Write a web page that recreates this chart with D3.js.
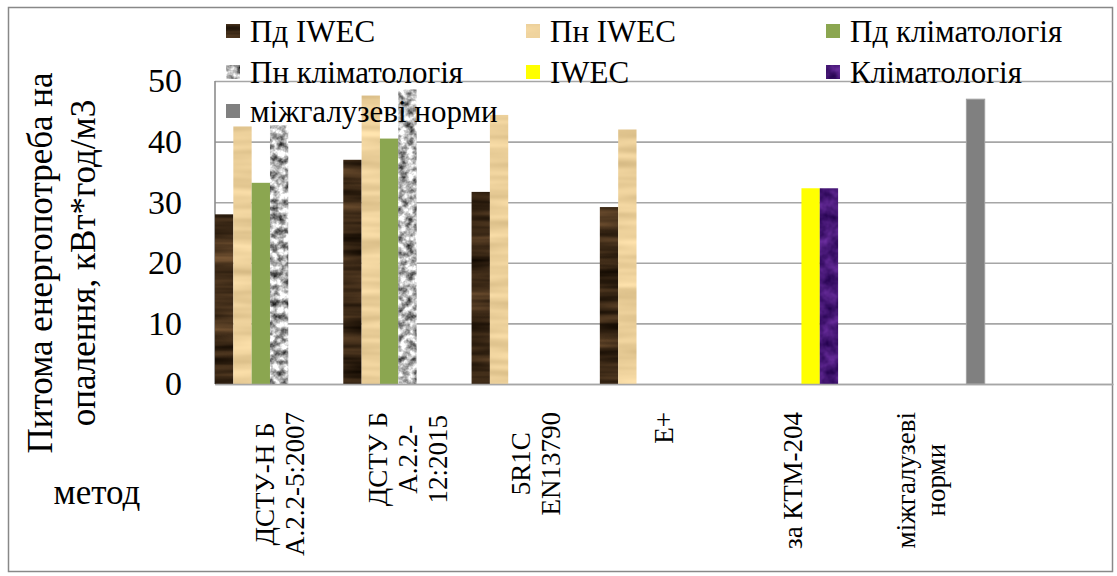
<!DOCTYPE html>
<html>
<head>
<meta charset="utf-8">
<script src="https://cdn.jsdelivr.net/npm/d3@7"></script>
<style>
  html, body { margin: 0; padding: 0; background: #fff; }
  svg { display: block; }
</style>
</head>
<body>
<svg id="chart" width="1117" height="576"></svg>
<script>
// Categories (calculation method), each label split into lines
const categories = ["c1", "c2", "c3", "c4", "c5", "c6", "c7"];
const categoryLabels = [
  ["ДСТУ-Н Б", "А.2.2-5:2007"],
  ["ДСТУ Б", "А.2.2-", "12:2015"],
  ["5R1C", "EN13790"],
  ["E+"],
  ["за КТМ-204"],
  ["міжгалузеві", "норми"],
  [""]
];

// Series names (legend order)
const seriesNames = [
  "Пд IWEC", "Пн IWEC", "Пд кліматологія",
  "Пн кліматологія", "IWEC", "Кліматологія",
  "міжгалузеві норми"
];

// Specific heating energy demand, kWh/m3
const pdIWEC   = [28.0, 37.0, 31.7, 29.2, null, null, null];
const pnIWEC   = [42.5, 47.6, 44.4, 42.0, null, null, null];
const pdClim   = [33.2, 40.5, null, null, null, null, null];
const pnClim   = [42.7, 48.6, null, null, null, null, null];
const iwecOnly = [null, null, null, null, 32.3, null, null];
const climOnly = [null, null, null, null, 32.3, null, null];
const norms    = [null, null, null, null, null, 47.0, null];

const yTicks = [0, 10, 20, 30, 40, 50];

const FONT = "Liberation Serif, DejaVu Serif, Noto Serif, FreeSerif, Tinos, Times New Roman, serif";

const seriesValues = [pdIWEC, pnIWEC, pdClim, pnClim, iwecOnly, climOnly, norms];
const seriesFilters = ["wood", "papyrus", null, "granite", null, "violet", null];
const seriesBase = ["#3d2a18", "#ebd19a", "#8ba650", "#b8b8b8", "#ffff00", "#4a1a75", "#808080"];

const svg = d3.select("#chart").attr("font-family", FONT);
const defs = svg.append("defs");

// Textured fills built from turbulence noise, clipped to the shape
function noiseFilter(id, freq, octaves, seed, matrix) {
  const f = defs.append("filter").attr("id", id)
    .attr("x", 0).attr("y", 0).attr("width", 1).attr("height", 1)
    .attr("color-interpolation-filters", "sRGB");
  f.append("feTurbulence").attr("type", "fractalNoise")
    .attr("baseFrequency", freq).attr("numOctaves", octaves)
    .attr("seed", seed).attr("result", "n");
  f.append("feColorMatrix").attr("in", "n").attr("type", "matrix")
    .attr("values", matrix).attr("result", "c");
  f.append("feComposite").attr("in", "c").attr("in2", "SourceGraphic").attr("operator", "in");
}
noiseFilter("wood", "0.006 0.09", 3, 4,
  "0.6 0 0 0 -0.06  0.45 0 0 0 -0.06  0.3 0 0 0 -0.06  0 0 0 0 1");
noiseFilter("papyrus", "0.01 0.1", 2, 7,
  "0.22 0 0 0 0.81  0.22 0 0 0 0.70  0.22 0 0 0 0.49  0 0 0 0 1");
noiseFilter("granite", "0.14", 3, 11,
  "1.5 0 0 0 -0.05  1.5 0 0 0 -0.05  1.5 0 0 0 -0.05  0 0 0 0 1");
noiseFilter("violet", "0.08", 3, 5,
  "0.4 0 0 0 0.08  0.25 0 0 0 -0.03  0.45 0 0 0 0.24  0 0 0 0 1");

// Outer chart frame
svg.append("rect")
  .attr("x", 8.5).attr("y", 7.5).attr("width", 1104).attr("height", 564)
  .attr("fill", "#fff").attr("stroke", "#888").attr("stroke-width", 1.5);

// Plot geometry
const plot = { left: 215, right: 1113, top: 81, bottom: 384 };

const x = d3.scaleBand().domain(categories).range([plot.left, plot.right])
  .paddingInner(0).paddingOuter(0);
const xs = d3.scaleBand().domain(d3.range(seriesNames.length)).range([0, x.bandwidth()])
  .paddingInner(0).paddingOuter(0);
const y = d3.scaleLinear().domain([0, 50]).range([plot.bottom, plot.top]);

// Horizontal gridlines
const grid = svg.append("g").attr("transform", `translate(${plot.left},0)`)
  .call(d3.axisLeft(y).tickValues(yTicks).tickSize(-(plot.right - plot.left)).tickFormat(""));
grid.select(".domain").remove();
grid.selectAll(".tick line").attr("stroke", "#a6a6a6").attr("stroke-width", 1.6);

// Vertical axis line
svg.append("line")
  .attr("x1", plot.left).attr("x2", plot.left)
  .attr("y1", y(50)).attr("y2", y(0))
  .attr("stroke", "#8c8c8c").attr("stroke-width", 1.6);

// Y tick labels
const yAxis = svg.append("g").attr("transform", `translate(${plot.left},0)`)
  .call(d3.axisLeft(y).tickValues(yTicks).tickSize(0).tickPadding(33))
  .attr("font-family", FONT).attr("font-size", 34);
yAxis.select(".domain").remove();
yAxis.selectAll("text").attr("fill", "#000");

// Bars
const barData = [];
seriesValues.forEach((vals, si) => {
  vals.forEach((v, ci) => {
    if (v !== null) barData.push({ si, ci, v });
  });
});
svg.append("g").selectAll("rect")
  .data(barData)
  .join("rect")
  .attr("x", d => x(categories[d.ci]) + xs(d.si))
  .attr("y", d => y(d.v))
  .attr("width", xs.bandwidth())
  .attr("height", d => y(0) - y(d.v))
  .attr("fill", d => seriesBase[d.si])
  .attr("filter", d => seriesFilters[d.si] ? `url(#${seriesFilters[d.si]})` : null)
  .attr("stroke", d => d.si === 6 ? "#a0a0a0" : null)
  .attr("stroke-width", d => d.si === 6 ? 1 : null);

// Baseline
svg.append("g").attr("transform", `translate(0,${plot.bottom})`)
  .call(d3.axisBottom(x).tickSize(0).tickFormat(""))
  .call(g => g.select(".domain").attr("stroke", "#a6a6a6").attr("stroke-width", 1.6));

// Rotated category labels: block aligned to the top, lines centered
const labelTop = 412;
const labelLH = 30;
categoryLabels.forEach((lines, ci) => {
  const cx = x(categories[ci]) + x.bandwidth() / 2;
  const g = svg.append("g");
  const texts = lines.map(t => g.append("text")
    .attr("font-family", FONT)
    .attr("font-size", 27)
    .attr("text-anchor", "middle")
    .text(t));
  const maxLen = d3.max(texts, t => t.node().getComputedTextLength());
  const cy = labelTop + maxLen / 2;
  texts.forEach((t, i) => {
    const lx = cx + (i - (lines.length - 1) / 2) * labelLH;
    t.attr("transform", `translate(${lx},${cy}) rotate(-90)`)
      .attr("dy", "0.35em");
  });
});

// Y axis title (two lines)
const yTitle = ["Питома енергопотреба на", "опалення, кВт*год/м3"];
yTitle.forEach((t, i) => {
  svg.append("text")
    .attr("transform", `translate(${40 + i * 43},263) rotate(-90)`)
    .attr("text-anchor", "middle")
    .attr("dy", "0.35em")
    .attr("font-family", FONT)
    .attr("font-size", 35)
    .text(t);
});

// X axis title
svg.append("text")
  .attr("x", 97).attr("y", 504)
  .attr("text-anchor", "middle")
  .attr("font-family", FONT)
  .attr("font-size", 35)
  .text("метод");

// Legend: three columns, three rows
const legendCols = [226, 526, 826];
const legendRows = [31, 72, 111];
const legend = svg.append("g");
seriesNames.forEach((name, i) => {
  const lx = legendCols[i % 3];
  const ly = legendRows[Math.floor(i / 3)];
  legend.append("rect")
    .attr("x", lx).attr("y", ly - 7).attr("width", 14).attr("height", 14)
    .attr("fill", seriesBase[i])
    .attr("filter", seriesFilters[i] ? `url(#${seriesFilters[i]})` : null);
  legend.append("text")
    .attr("x", lx + 24).attr("y", ly)
    .attr("dy", "0.35em")
    .attr("font-family", FONT)
    .attr("font-size", 31)
    .text(name);
});
</script>
</body>
</html>
